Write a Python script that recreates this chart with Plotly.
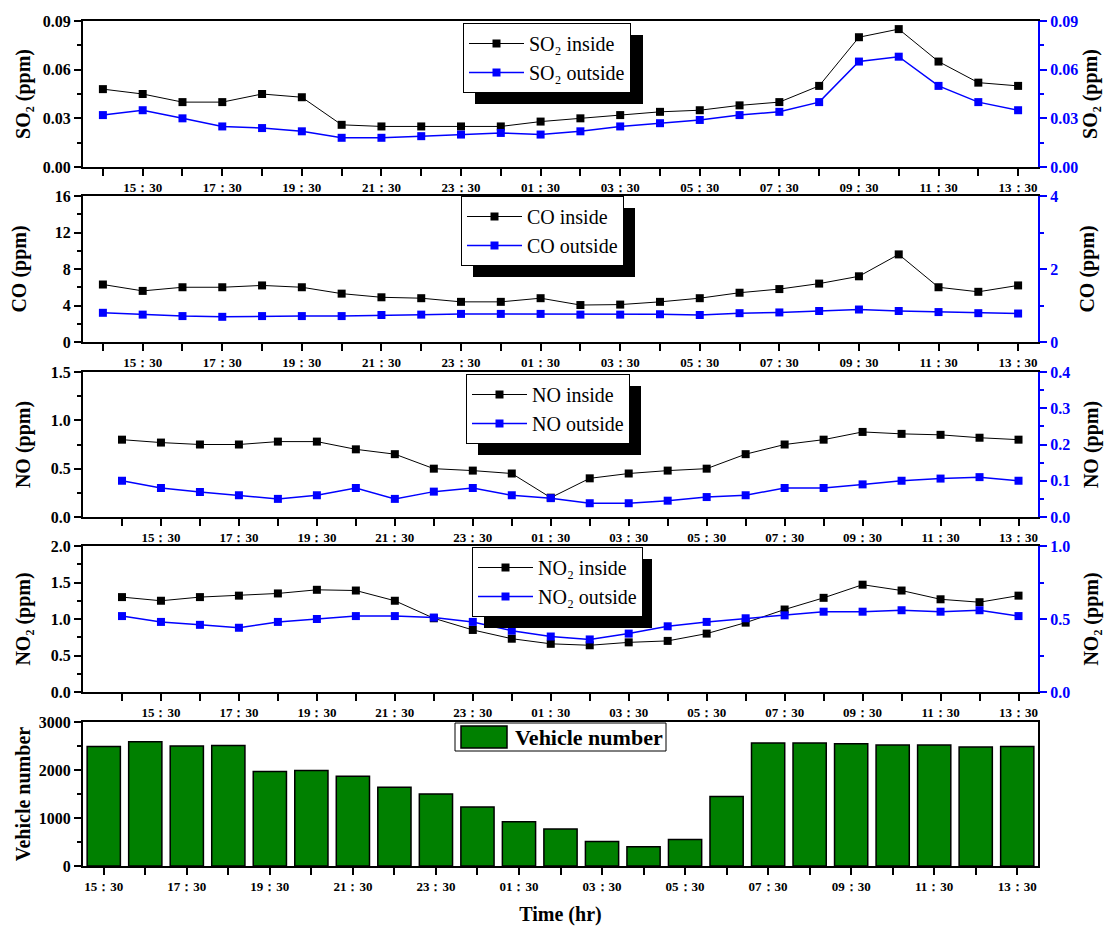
import plotly.graph_objects as go

# ---- data -----------------------------------------------------------------
times = ["14：30", "15：30", "16：30", "17：30", "18：30", "19：30", "20：30",
         "21：30", "22：30", "23：30", "00：30", "01：30", "02：30", "03：30",
         "04：30", "05：30", "06：30", "07：30", "08：30", "09：30", "10：30",
         "11：30", "12：30", "13：30"]
bar_times = times[1:]

so2_inside = [0.048, 0.045, 0.040, 0.040, 0.045, 0.043, 0.026, 0.025, 0.025, 0.025,
              0.025, 0.028, 0.030, 0.032, 0.034, 0.035, 0.038, 0.040, 0.050, 0.080,
              0.085, 0.065, 0.052, 0.050]
so2_outside = [0.032, 0.035, 0.030, 0.025, 0.024, 0.022, 0.018, 0.018, 0.019, 0.020,
               0.021, 0.020, 0.022, 0.025, 0.027, 0.029, 0.032, 0.034, 0.040, 0.065,
               0.068, 0.050, 0.040, 0.035]

co_inside = [6.3, 5.6, 6.0, 6.0, 6.2, 6.0, 5.3, 4.9, 4.8, 4.4, 4.4, 4.8, 4.05, 4.1,
             4.4, 4.8, 5.4, 5.8, 6.4, 7.2, 9.6, 6.0, 5.5, 6.2]
co_outside = [0.80, 0.75, 0.71, 0.69, 0.71, 0.71, 0.71, 0.74, 0.75, 0.77, 0.77, 0.77,
              0.75, 0.75, 0.76, 0.74, 0.79, 0.81, 0.85, 0.89, 0.85, 0.82, 0.79, 0.78]

no_inside = [0.80, 0.77, 0.75, 0.75, 0.78, 0.78, 0.70, 0.65, 0.50, 0.48, 0.45, 0.20,
             0.40, 0.45, 0.48, 0.50, 0.65, 0.75, 0.80, 0.88, 0.86, 0.85, 0.82, 0.80]
no_outside = [0.100, 0.080, 0.069, 0.060, 0.050, 0.060, 0.080, 0.050, 0.070, 0.080,
              0.060, 0.052, 0.038, 0.038, 0.045, 0.055, 0.060, 0.080, 0.080, 0.090,
              0.100, 0.106, 0.110, 0.100]

no2_inside = [1.30, 1.25, 1.30, 1.32, 1.35, 1.40, 1.39, 1.25, 1.01, 0.85, 0.73, 0.66,
              0.64, 0.68, 0.70, 0.80, 0.95, 1.13, 1.29, 1.47, 1.39, 1.27, 1.23, 1.32]
no2_outside = [0.52, 0.48, 0.46, 0.44, 0.48, 0.50, 0.52, 0.52, 0.51, 0.48, 0.42, 0.38,
               0.36, 0.40, 0.45, 0.48, 0.505, 0.525, 0.55, 0.55, 0.56, 0.55, 0.56, 0.52]

vehicles = [2490, 2590, 2500, 2510, 1970, 1990, 1870, 1640, 1500, 1230, 920, 770,
            510, 400, 550, 1450, 2560, 2560, 2545, 2520, 2520, 2480, 2490]

# ---- layout helpers ---------------------------------------------------------
W, H = 1105, 928
ML, MR, MT, MB = 83, 67, 21, 62
PW, PH = W - ML - MR, H - MT - MB
SERIF = "Liberation Serif, Times New Roman, serif"
BLUE = "#0000FF"
GREEN = "#008000"


def ydom(top, bottom):
    return [(H - MB - bottom) / PH, (H - MB - top) / PH]


def px_x(x):
    return (x - ML) / PW


def px_y(y):
    return (H - MB - y) / PH


# hourly positions along the time axis; every second hour gets a label
line_pos = list(range(len(times)))
line_lab_pos = [i for i in line_pos if i % 2 == 1]
line_lab_txt = [times[i] for i in line_lab_pos]
bar_pos = list(range(len(bar_times)))
bar_lab_pos = [i for i in bar_pos if i % 2 == 0]
bar_lab_txt = [bar_times[i] for i in bar_lab_pos]

panels = [
    dict(name="SO₂", inside=so2_inside, outside=so2_outside,
         top=21, bottom=167, xr=[-0.5, 23.5],
         lr=[0, 0.09], ld=0.03, lf=".2f", rr=[0, 0.09], rd=0.03, rf=".2f",
         lstand=7, rstand=6, leg=(463, 23), legw=168),
    dict(name="CO", inside=co_inside, outside=co_outside,
         top=196, bottom=342, xr=[-0.5, 23.5],
         lr=[0, 16], ld=4, lf="d", rr=[0, 4], rd=2, rf="d",
         lstand=23, rstand=23, leg=(461, 196), legw=162),
    dict(name="NO", inside=no_inside, outside=no_outside,
         top=372, bottom=517, xr=[-1, 23.5],
         lr=[0, 1.5], ld=0.5, lf=".1f", rr=[0, 0.4], rd=0.1, rf=".1f",
         lstand=15, rstand=15, leg=(466, 374), legw=163),
    dict(name="NO₂", inside=no2_inside, outside=no2_outside,
         top=546, bottom=692, xr=[-1, 23.5],
         lr=[0, 2.0], ld=0.5, lf=".1f", rr=[0, 1.0], rd=0.5, rf=".1f",
         lstand=15, rstand=15, leg=(472, 547), legw=168),
]
LEG_H = 69      # rendered height of a two-entry legend box
SHADOW = 12     # drop-shadow offset of the legend boxes

tick_font = dict(family=SERIF, size=16, color="black", weight="bold")
xtick_font = dict(family=SERIF, size=13, color="black", weight="bold")
title_font = dict(family=SERIF, size=20, color="black", weight="bold")


def x_axis(anchor, rng, ticks_at, tick_txt, every):
    return dict(
        domain=[0, 1], anchor=anchor, range=rng,
        tickmode="array", tickvals=ticks_at, ticktext=tick_txt,
        minor=dict(tickmode="array", tickvals=every, ticks="outside",
                   ticklen=7, tickwidth=1.5, tickcolor="black", showgrid=False),
        showline=True, linecolor="black", linewidth=2, mirror=True,
        ticks="outside", ticklen=7, tickwidth=1.5, tickcolor="black",
        tickfont=xtick_font, showgrid=False, zeroline=False, tickangle=0)


fig = go.Figure()
layout = dict(
    width=W, height=H,
    margin=dict(l=ML, r=MR, t=MT, b=MB, autoexpand=False),
    paper_bgcolor="white", plot_bgcolor="white",
    hovermode=False, showlegend=True,
    shapes=[], annotations=[],
)

for k, p in enumerate(panels):
    xa = f"x{k + 1}"
    yl = f"y{2 * k + 1}"
    yr = f"y{2 * k + 2}"
    legname = "legend" if k == 0 else f"legend{k + 1}"

    fig.add_trace(go.Scatter(
        x=line_pos, y=p["inside"], xaxis=xa, yaxis=yl, mode="lines+markers",
        name=f"{p['name']} inside", legend=legname,
        line=dict(color="black", width=1),
        marker=dict(symbol="square", size=8, color="black")))
    fig.add_trace(go.Scatter(
        x=line_pos, y=p["outside"], xaxis=xa, yaxis=yr, mode="lines+markers",
        name=f"{p['name']} outside", legend=legname,
        line=dict(color=BLUE, width=1.5),
        marker=dict(symbol="square", size=8, color=BLUE)))

    layout[f"xaxis{k + 1}"] = x_axis(yl, p["xr"], line_lab_pos, line_lab_txt, line_pos)
    layout[f"yaxis{2 * k + 1}"] = dict(
        domain=ydom(p["top"], p["bottom"]), anchor=xa, range=p["lr"],
        dtick=p["ld"], tick0=0, tickformat=p["lf"],
        showline=True, linecolor="black", linewidth=2, mirror=False,
        ticks="outside", ticklen=7, tickwidth=1.5, tickcolor="black",
        minor=dict(dtick=p["ld"] / 2, ticks="outside", ticklen=4,
                   tickwidth=1.5, tickcolor="black", showgrid=False),
        tickfont=tick_font, showgrid=False, zeroline=False,
        title=dict(text=f"{p['name']} (ppm)", font=title_font, standoff=p["lstand"]))
    layout[f"yaxis{2 * k + 2}"] = dict(
        overlaying=yl, anchor=xa, side="right", range=p["rr"],
        dtick=p["rd"], tick0=0, tickformat=p["rf"],
        showline=True, linecolor=BLUE, linewidth=2,
        ticks="outside", ticklen=7, tickwidth=1.5, tickcolor=BLUE,
        minor=dict(dtick=p["rd"] / 2, ticks="outside", ticklen=4,
                   tickwidth=1.5, tickcolor=BLUE, showgrid=False),
        tickfont=dict(family=SERIF, size=16, color=BLUE, weight="bold"),
        showgrid=False, zeroline=False,
        title=dict(text=f"{p['name']} (ppm)", font=title_font, standoff=p["rstand"]))

    lx, ly = p["leg"]
    layout[legname] = dict(
        x=px_x(lx), y=px_y(ly), xanchor="left", yanchor="top",
        bgcolor="white", bordercolor="black", borderwidth=1,
        font=dict(family=SERIF, size=20, color="black"),
        tracegroupgap=0, itemwidth=55)
    # black drop shadow behind the legend box
    layout["shapes"].append(dict(
        type="rect", xref="paper", yref="paper", layer="above",
        x0=px_x(lx + SHADOW), x1=px_x(lx + SHADOW + p["legw"]),
        y0=px_y(ly + SHADOW + LEG_H), y1=px_y(ly + SHADOW),
        fillcolor="black", line=dict(width=0)))

# ---- vehicle bars -----------------------------------------------------------
fig.add_trace(go.Bar(
    x=bar_pos, y=vehicles, xaxis="x5", yaxis="y9", name="Vehicle number",
    showlegend=False, width=0.8,
    marker=dict(color=GREEN, line=dict(color="black", width=1.5))))

layout["xaxis5"] = x_axis("y9", [-0.5, 22.5], bar_lab_pos, bar_lab_txt, bar_pos)
layout["xaxis5"]["title"] = dict(text="Time (hr)", font=title_font, standoff=14)
layout["yaxis9"] = dict(
    domain=ydom(722, 866), anchor="x5", range=[0, 3000], dtick=1000, tick0=0,
    showline=True, linecolor="black", linewidth=2, mirror=True,
    ticks="outside", ticklen=7, tickwidth=1.5, tickcolor="black",
    minor=dict(dtick=500, ticks="outside", ticklen=4, tickwidth=1.5,
               tickcolor="black", showgrid=False),
    tickfont=tick_font, showgrid=False, zeroline=False,
    title=dict(text="Vehicle number", font=title_font, standoff=3))

# legend key for the bar series: framed box, green swatch, bold caption
VL, VT, VR, VB = 455, 723, 666, 751
layout["shapes"].append(dict(
    type="rect", xref="paper", yref="paper", layer="above",
    x0=px_x(VL), x1=px_x(VR), y0=px_y(VB), y1=px_y(VT),
    fillcolor="white", line=dict(color="black", width=1)))
layout["shapes"].append(dict(
    type="rect", xref="paper", yref="paper", layer="above",
    x0=px_x(VL + 6), x1=px_x(VL + 52), y0=px_y(VB - 3), y1=px_y(VT + 3),
    fillcolor=GREEN, line=dict(color="black", width=1.5)))
layout["annotations"].append(dict(
    text="Vehicle number", xref="paper", yref="paper",
    x=px_x(VL + 58), y=px_y((VT + VB) / 2), xanchor="left", yanchor="middle",
    showarrow=False, font=dict(family=SERIF, size=22, color="black", weight="bold")))

fig.update_layout(**layout)
fig.write_html("out.html")
